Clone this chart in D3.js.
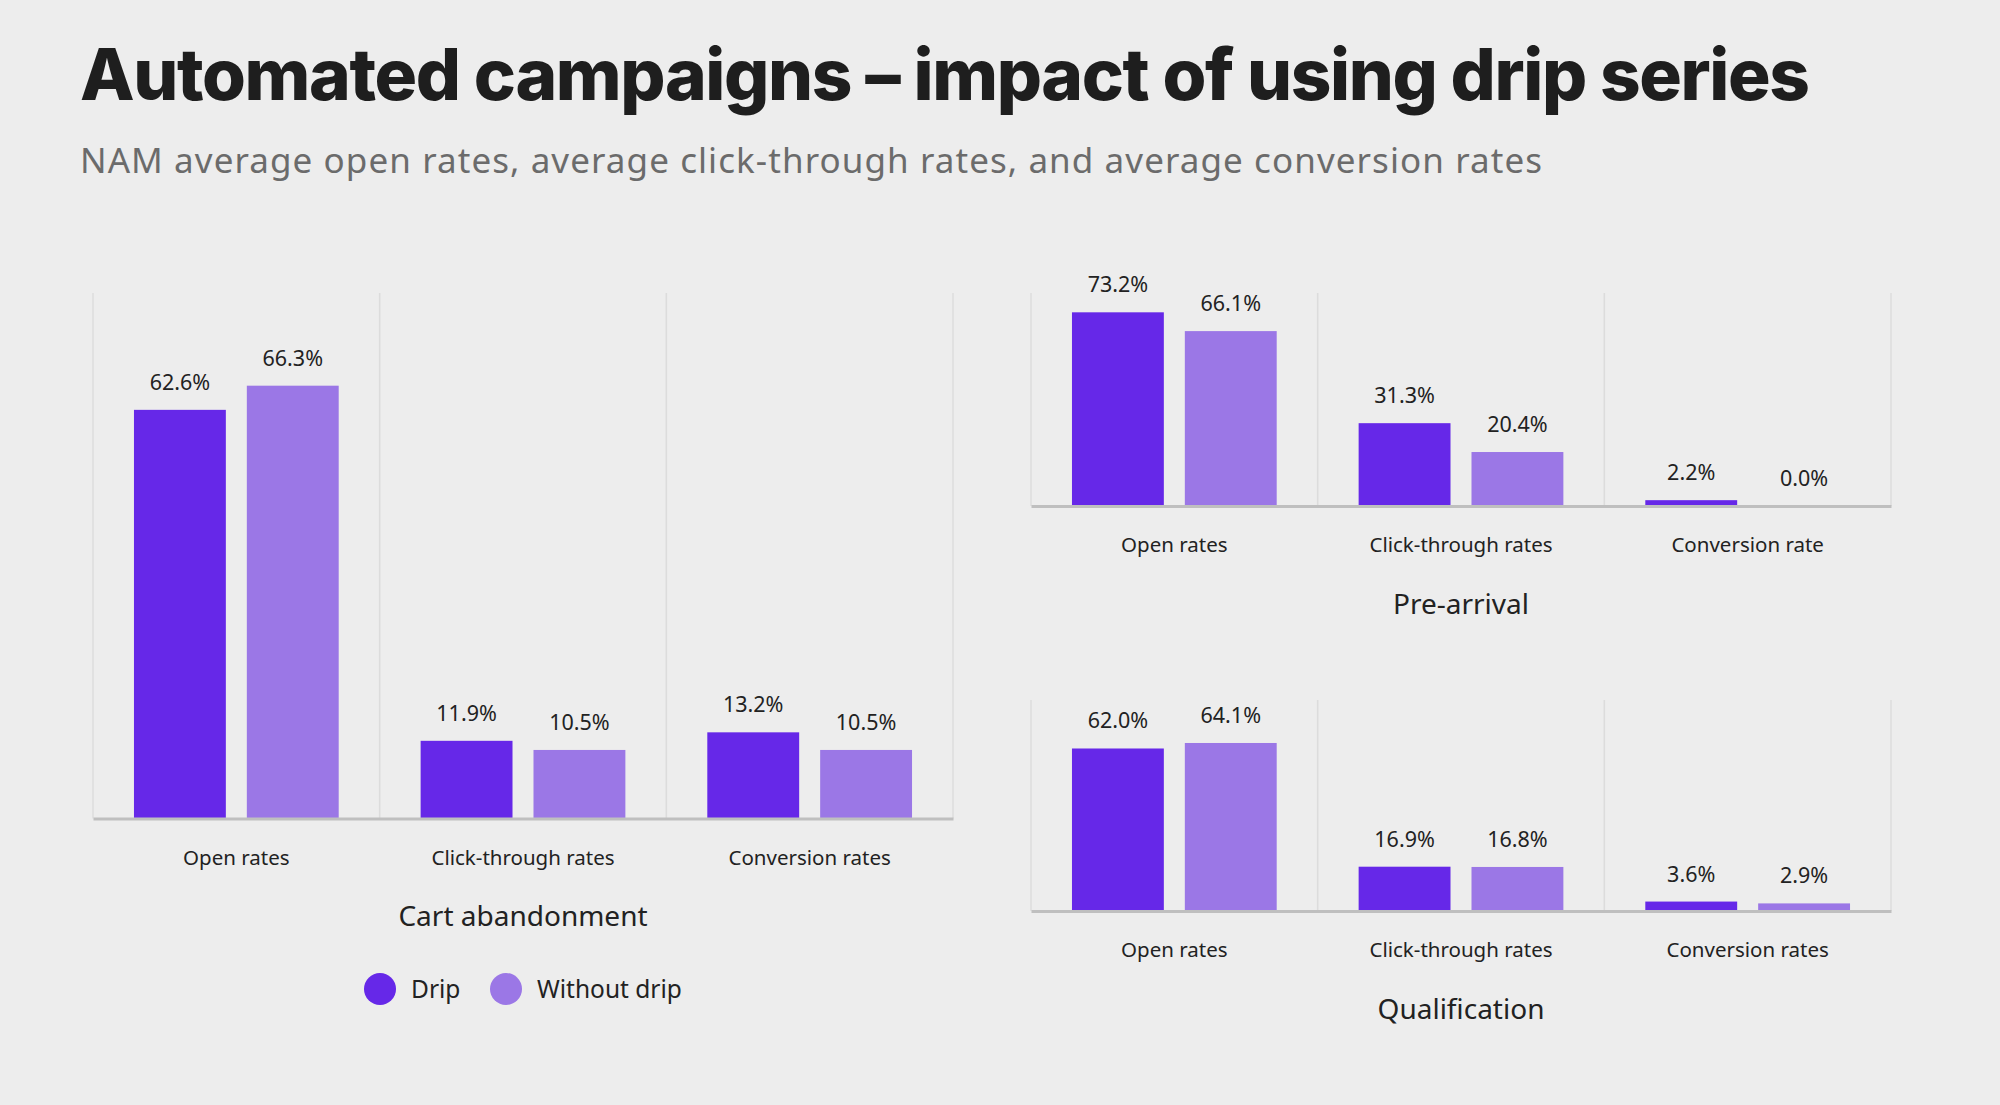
<!DOCTYPE html>
<html>
<head>
<meta charset="utf-8">
<script src="https://cdn.jsdelivr.net/npm/d3@7"></script>
<style>
  body { margin: 0; background: #ededed; }
  svg { display: block; }
</style>
</head>
<body>
<div id="chart"></div>
<script>
// Chart data
var series = ["Drip", "Without drip"];
var cartCategories = ["Open rates", "Click-through rates", "Conversion rates"];
var preCategories = ["Open rates", "Click-through rates", "Conversion rate"];
var qualCategories = ["Open rates", "Click-through rates", "Conversion rates"];

var cartDrip = [62.6, 11.9, 13.2];
var cartWithout = [66.3, 10.5, 10.5];
var preDrip = [73.2, 31.3, 2.2];
var preWithout = [66.1, 20.4, 0.0];
var qualDrip = [62.0, 16.9, 3.6];
var qualWithout = [64.1, 16.8, 2.9];

var colors = ["#6628e8", "#9b77e6"];

// SVG area
var svgWidth = 2000;
var svgHeight = 1105;

var svg = d3.select("#chart")
  .append("svg")
  .attr("width", svgWidth)
  .attr("height", svgHeight);

svg.append("rect")
  .attr("width", svgWidth)
  .attr("height", svgHeight)
  .attr("fill", "#ededed");

// Title and subtitle
svg.append("text")
  .attr("x", 80)
  .attr("y", 100)
  .attr("textLength", 1730)
  .attr("lengthAdjust", "spacing")
  .style("font-family", "Inter, Roboto, sans-serif")
  .style("font-weight", 800)
  .style("font-size", "71px")
  .style("fill", "#1e1e1e")
  .text("Automated campaigns – impact of using drip series");

svg.append("text")
  .attr("x", 80)
  .attr("y", 173)
  .attr("textLength", 1462)
  .attr("lengthAdjust", "spacing")
  .style("font-family", "'Noto Sans', sans-serif")
  .style("font-size", "35px")
  .style("fill", "#6b6b6b")
  .text("NAM average open rates, average click-through rates, and average conversion rates");

// Draws one grouped bar panel
function drawPanel(opts) {
  var g = svg.append("g");

  var x0 = d3.scaleBand()
    .domain(opts.categories)
    .range([opts.left, opts.right])
    .padding(0);

  var x1 = d3.scaleBand()
    .domain(series)
    .range([0, x0.bandwidth()])
    .paddingInner(0.186)
    .paddingOuter(0.363);

  var y = d3.scaleLinear()
    .domain([0, 80.5])
    .range([opts.bottom, opts.top]);

  // vertical gridlines at band edges
  var edges = opts.categories.map(function(c) { return x0(c); }).concat([opts.right]);
  g.selectAll("line.grid")
    .data(edges)
    .enter()
    .append("line")
    .attr("x1", d => d)
    .attr("x2", d => d)
    .attr("y1", y(80.5))
    .attr("y2", y(0))
    .attr("stroke", "#dcdcdc")
    .attr("stroke-width", 1.5);

  var rows = opts.categories.map(function(c, i) {
    return { cat: c, values: [opts.drip[i], opts.without[i]] };
  });

  var groups = g.selectAll("g.cat")
    .data(rows)
    .enter()
    .append("g")
    .attr("transform", d => `translate(${x0(d.cat)},0)`);

  var cells = groups.selectAll("g.bar")
    .data(d => d.values.map(function(v, i) { return { key: series[i], value: v, i: i }; }))
    .enter();

  cells.append("rect")
    .attr("x", d => x1(d.key))
    .attr("width", x1.bandwidth())
    .attr("y", d => y(d.value))
    .attr("height", d => y(0) - y(d.value))
    .attr("fill", d => colors[d.i]);

  cells.append("text")
    .attr("x", d => x1(d.key) + x1.bandwidth() / 2)
    .attr("y", d => y(d.value) - 20)
    .attr("text-anchor", "middle")
    .style("font-family", "'Noto Sans', sans-serif")
    .style("font-size", "21.5px")
    .style("fill", "#222")
    .text(d => d.value.toFixed(1) + "%");

  // baseline axis
  var xAxis = d3.axisBottom(x0).tickSize(0).tickPadding(0);
  var axisG = g.append("g")
    .attr("transform", `translate(0, ${y(0)})`)
    .call(xAxis);
  axisG.select(".domain")
    .attr("stroke", "#bfbfbf")
    .attr("stroke-width", 3);
  axisG.selectAll(".tick text")
    .attr("y", 39)
    .attr("dy", "0.35em")
    .style("font-family", "'Noto Sans', sans-serif")
    .style("font-size", "20.5px")
    .style("fill", "#222");

  // panel title
  g.append("text")
    .attr("x", (opts.left + opts.right) / 2)
    .attr("y", y(0) + 98)
    .attr("dy", "0.35em")
    .attr("text-anchor", "middle")
    .style("font-family", "'Noto Sans', sans-serif")
    .style("font-size", "28px")
    .style("fill", "#222")
    .text(opts.title);
}

drawPanel({ title: "Cart abandonment", categories: cartCategories, drip: cartDrip, without: cartWithout,
  left: 93, right: 953, top: 293, bottom: 818.5 });
drawPanel({ title: "Pre-arrival", categories: preCategories, drip: preDrip, without: preWithout,
  left: 1031, right: 1891, top: 293, bottom: 506 });
drawPanel({ title: "Qualification", categories: qualCategories, drip: qualDrip, without: qualWithout,
  left: 1031, right: 1891, top: 700, bottom: 911 });

// Legend
var legend = svg.append("g").attr("transform", "translate(380, 989)");
var legendX = d3.scaleOrdinal().domain(series).range([0, 126]);

var items = legend.selectAll("g.item")
  .data(series)
  .enter()
  .append("g")
  .attr("transform", d => `translate(${legendX(d)},0)`);

items.append("circle")
  .attr("r", 16)
  .attr("fill", (d, i) => colors[i]);

items.append("text")
  .attr("x", 31)
  .attr("dy", "0.35em")
  .style("font-family", "'Noto Sans', sans-serif")
  .style("font-size", "24.5px")
  .style("fill", "#222")
  .text(d => d);
</script>
</body>
</html>
